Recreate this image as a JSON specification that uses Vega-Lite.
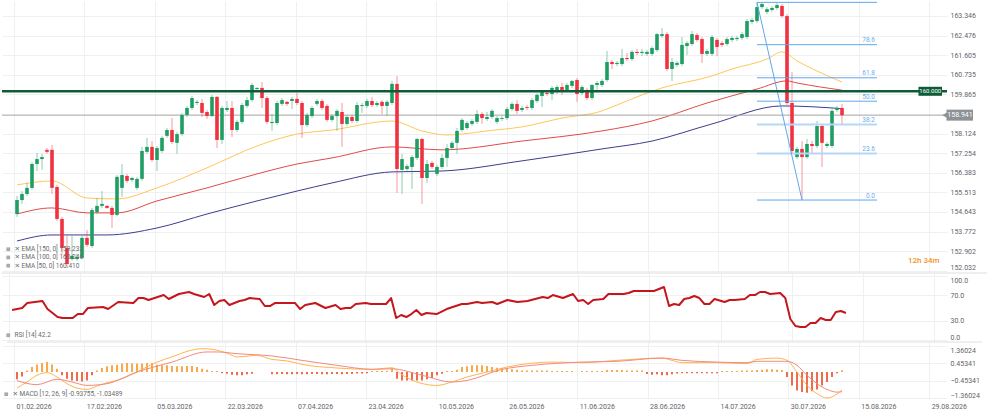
{
  "$schema": "https://vega.github.io/schema/vega-lite/v6.json",
  "padding": 0,
  "autosize": {"type": "pad"},
  "background": "white",
  "spacing": 0,
  "bounds": "flush",
  "datasets": {
    "candles": [
      {"i":1,"o":154.55,"h":155.35,"l":154.42,"c":155.17},
      {"i":2,"o":155.17,"h":155.57,"l":155.00,"c":155.44},
      {"i":3,"o":155.44,"h":155.93,"l":155.35,"c":155.71},
      {"i":4,"o":155.71,"h":156.86,"l":155.62,"c":156.77},
      {"i":5,"o":156.77,"h":157.26,"l":156.46,"c":156.99},
      {"i":6,"o":156.99,"h":157.22,"l":156.51,"c":157.08},
      {"i":7,"o":157.40,"h":157.48,"l":157.22,"c":157.31},
      {"i":8,"o":157.40,"h":157.62,"l":155.44,"c":155.71},
      {"i":9,"o":155.75,"h":155.84,"l":154.24,"c":154.33},
      {"i":10,"o":154.33,"h":154.42,"l":152.78,"c":153.04},
      {"i":11,"o":153.04,"h":153.58,"l":152.16,"c":152.33},
      {"i":12,"o":152.55,"h":153.58,"l":152.47,"c":152.69},
      {"i":13,"o":152.55,"h":152.78,"l":152.47,"c":152.64},
      {"i":14,"o":152.60,"h":153.58,"l":152.55,"c":153.49},
      {"i":15,"o":153.49,"h":153.84,"l":153.09,"c":153.18},
      {"i":16,"o":153.13,"h":154.82,"l":153.04,"c":154.73},
      {"i":17,"o":154.64,"h":155.26,"l":154.55,"c":154.91},
      {"i":18,"o":154.91,"h":155.57,"l":154.82,"c":155.00},
      {"i":19,"o":154.91,"h":154.95,"l":154.78,"c":154.82},
      {"i":20,"o":154.82,"h":154.91,"l":153.93,"c":154.51},
      {"i":21,"o":154.51,"h":156.28,"l":154.46,"c":156.20},
      {"i":22,"o":155.71,"h":156.77,"l":155.31,"c":156.28},
      {"i":23,"o":156.24,"h":156.33,"l":155.93,"c":156.02},
      {"i":24,"o":156.06,"h":156.20,"l":155.97,"c":156.15},
      {"i":25,"o":155.71,"h":156.20,"l":155.62,"c":156.11},
      {"i":26,"o":156.11,"h":157.53,"l":156.02,"c":157.35},
      {"i":27,"o":157.31,"h":157.93,"l":157.22,"c":157.53},
      {"i":28,"o":157.53,"h":157.79,"l":156.86,"c":156.95},
      {"i":29,"o":156.95,"h":157.57,"l":156.46,"c":157.48},
      {"i":30,"o":157.35,"h":158.02,"l":157.26,"c":157.93},
      {"i":31,"o":158.02,"h":158.37,"l":157.93,"c":158.28},
      {"i":32,"o":158.28,"h":158.81,"l":157.66,"c":157.75},
      {"i":33,"o":157.71,"h":158.19,"l":157.22,"c":158.10},
      {"i":34,"o":158.10,"h":159.04,"l":158.02,"c":158.95},
      {"i":35,"o":158.95,"h":159.35,"l":158.86,"c":159.26},
      {"i":36,"o":159.26,"h":159.79,"l":159.17,"c":159.70},
      {"i":37,"o":159.48,"h":159.61,"l":159.39,"c":159.53},
      {"i":38,"o":159.48,"h":159.66,"l":158.86,"c":159.04},
      {"i":39,"o":159.08,"h":159.17,"l":158.77,"c":158.90},
      {"i":40,"o":158.90,"h":159.84,"l":158.86,"c":159.75},
      {"i":41,"o":159.75,"h":159.79,"l":157.48,"c":157.84},
      {"i":42,"o":157.84,"h":159.35,"l":157.66,"c":159.26},
      {"i":43,"o":159.17,"h":159.57,"l":159.08,"c":159.26},
      {"i":44,"o":159.26,"h":159.57,"l":157.97,"c":158.28},
      {"i":45,"o":158.28,"h":158.73,"l":158.19,"c":158.64},
      {"i":46,"o":158.64,"h":159.48,"l":158.55,"c":159.39},
      {"i":47,"o":159.35,"h":159.75,"l":159.26,"c":159.61},
      {"i":48,"o":159.61,"h":160.37,"l":159.53,"c":160.28},
      {"i":49,"o":160.10,"h":160.19,"l":160.01,"c":160.15},
      {"i":50,"o":160.15,"h":160.41,"l":159.26,"c":159.70},
      {"i":51,"o":159.70,"h":159.79,"l":158.55,"c":158.64},
      {"i":52,"o":158.59,"h":158.99,"l":158.24,"c":158.64},
      {"i":53,"o":158.59,"h":159.57,"l":158.50,"c":159.48},
      {"i":54,"o":159.44,"h":159.70,"l":159.35,"c":159.61},
      {"i":55,"o":159.53,"h":159.57,"l":159.35,"c":159.44},
      {"i":56,"o":159.57,"h":159.75,"l":159.21,"c":159.66},
      {"i":57,"o":159.66,"h":159.92,"l":159.39,"c":159.48},
      {"i":58,"o":159.48,"h":159.57,"l":157.93,"c":158.50},
      {"i":59,"o":158.50,"h":159.04,"l":158.42,"c":158.95},
      {"i":60,"o":158.90,"h":159.35,"l":158.81,"c":159.26},
      {"i":61,"o":159.44,"h":159.66,"l":159.35,"c":159.57},
      {"i":62,"o":159.57,"h":159.66,"l":159.17,"c":159.26},
      {"i":63,"o":159.35,"h":159.44,"l":158.64,"c":158.73},
      {"i":64,"o":158.73,"h":158.99,"l":158.64,"c":158.90},
      {"i":65,"o":158.90,"h":159.21,"l":158.24,"c":159.13},
      {"i":66,"o":159.08,"h":159.48,"l":157.53,"c":158.55},
      {"i":67,"o":158.55,"h":158.95,"l":158.46,"c":158.86},
      {"i":68,"o":158.86,"h":158.95,"l":158.59,"c":158.68},
      {"i":69,"o":158.68,"h":159.53,"l":158.59,"c":159.39},
      {"i":70,"o":159.35,"h":159.48,"l":159.04,"c":159.39},
      {"i":71,"o":159.35,"h":159.66,"l":159.26,"c":159.57},
      {"i":72,"o":159.57,"h":159.75,"l":159.30,"c":159.39},
      {"i":73,"o":159.39,"h":159.57,"l":159.30,"c":159.48},
      {"i":74,"o":159.53,"h":159.61,"l":158.99,"c":159.35},
      {"i":75,"o":159.35,"h":159.61,"l":158.90,"c":159.53},
      {"i":76,"o":159.48,"h":160.46,"l":159.39,"c":160.33},
      {"i":77,"o":160.33,"h":160.68,"l":155.49,"c":156.55},
      {"i":78,"o":156.51,"h":157.22,"l":155.44,"c":156.99},
      {"i":79,"o":156.55,"h":156.77,"l":156.46,"c":156.68},
      {"i":80,"o":156.64,"h":157.17,"l":155.66,"c":157.08},
      {"i":81,"o":157.04,"h":157.93,"l":156.95,"c":157.88},
      {"i":82,"o":157.88,"h":157.93,"l":155.00,"c":156.15},
      {"i":83,"o":156.15,"h":156.95,"l":155.93,"c":156.77},
      {"i":84,"o":156.82,"h":156.91,"l":156.55,"c":156.64},
      {"i":85,"o":156.33,"h":156.73,"l":156.24,"c":156.64},
      {"i":86,"o":156.64,"h":157.22,"l":156.55,"c":157.04},
      {"i":87,"o":157.04,"h":157.66,"l":156.64,"c":157.48},
      {"i":88,"o":157.48,"h":157.79,"l":157.40,"c":157.71},
      {"i":89,"o":157.71,"h":158.37,"l":157.22,"c":158.24},
      {"i":90,"o":158.28,"h":158.81,"l":158.19,"c":158.73},
      {"i":91,"o":158.37,"h":158.68,"l":158.28,"c":158.59},
      {"i":92,"o":158.55,"h":158.77,"l":158.46,"c":158.68},
      {"i":93,"o":158.64,"h":159.17,"l":158.55,"c":158.99},
      {"i":94,"o":158.99,"h":159.08,"l":158.55,"c":158.81},
      {"i":95,"o":158.77,"h":159.08,"l":158.68,"c":158.86},
      {"i":96,"o":158.86,"h":159.21,"l":158.77,"c":159.13},
      {"i":97,"o":158.64,"h":158.90,"l":158.55,"c":158.81},
      {"i":98,"o":158.77,"h":158.90,"l":158.68,"c":158.81},
      {"i":99,"o":158.81,"h":159.30,"l":158.73,"c":159.21},
      {"i":100,"o":159.21,"h":159.53,"l":159.13,"c":159.44},
      {"i":101,"o":159.44,"h":159.61,"l":158.99,"c":159.13},
      {"i":102,"o":159.17,"h":159.35,"l":159.08,"c":159.26},
      {"i":103,"o":159.30,"h":159.39,"l":159.17,"c":159.26},
      {"i":104,"o":159.26,"h":159.70,"l":159.17,"c":159.61},
      {"i":105,"o":159.57,"h":159.92,"l":159.48,"c":159.84},
      {"i":106,"o":159.79,"h":160.06,"l":159.30,"c":159.97},
      {"i":107,"o":159.92,"h":160.01,"l":159.79,"c":159.88},
      {"i":108,"o":159.88,"h":160.24,"l":159.61,"c":160.15},
      {"i":109,"o":159.97,"h":160.28,"l":159.88,"c":160.19},
      {"i":110,"o":160.19,"h":160.37,"l":159.84,"c":160.06},
      {"i":111,"o":160.06,"h":160.37,"l":159.97,"c":160.28},
      {"i":112,"o":160.24,"h":160.50,"l":160.15,"c":160.46},
      {"i":113,"o":160.50,"h":160.59,"l":159.53,"c":159.88},
      {"i":114,"o":159.92,"h":160.28,"l":159.84,"c":160.19},
      {"i":115,"o":160.06,"h":160.15,"l":159.61,"c":159.70},
      {"i":116,"o":159.70,"h":160.33,"l":159.61,"c":160.28},
      {"i":117,"o":160.28,"h":160.46,"l":160.06,"c":160.37},
      {"i":118,"o":160.28,"h":160.55,"l":160.19,"c":160.46},
      {"i":119,"o":160.50,"h":161.79,"l":160.41,"c":161.30},
      {"i":120,"o":161.30,"h":161.39,"l":160.99,"c":161.21},
      {"i":121,"o":161.21,"h":161.35,"l":161.12,"c":161.26},
      {"i":122,"o":161.21,"h":161.88,"l":161.12,"c":161.48},
      {"i":123,"o":161.48,"h":161.70,"l":161.35,"c":161.43},
      {"i":124,"o":161.43,"h":161.83,"l":161.35,"c":161.75},
      {"i":125,"o":161.75,"h":161.88,"l":161.61,"c":161.70},
      {"i":126,"o":161.70,"h":161.88,"l":161.57,"c":161.75},
      {"i":127,"o":161.66,"h":161.83,"l":161.57,"c":161.75},
      {"i":128,"o":161.66,"h":162.01,"l":161.57,"c":161.92},
      {"i":129,"o":161.83,"h":162.59,"l":161.75,"c":162.54},
      {"i":130,"o":162.46,"h":162.81,"l":162.37,"c":162.54},
      {"i":131,"o":162.54,"h":162.63,"l":160.90,"c":160.99},
      {"i":132,"o":160.99,"h":161.48,"l":160.46,"c":161.30},
      {"i":133,"o":161.17,"h":161.35,"l":161.08,"c":161.26},
      {"i":134,"o":161.21,"h":162.41,"l":161.12,"c":162.06},
      {"i":135,"o":162.01,"h":162.23,"l":161.61,"c":162.14},
      {"i":136,"o":162.10,"h":162.68,"l":162.01,"c":162.54},
      {"i":137,"o":162.50,"h":162.59,"l":162.19,"c":162.28},
      {"i":138,"o":162.32,"h":162.41,"l":161.26,"c":161.66},
      {"i":139,"o":161.66,"h":161.88,"l":161.57,"c":161.79},
      {"i":140,"o":161.66,"h":162.50,"l":161.57,"c":162.41},
      {"i":141,"o":162.28,"h":162.37,"l":161.57,"c":161.97},
      {"i":142,"o":162.14,"h":162.23,"l":161.97,"c":162.06},
      {"i":143,"o":162.10,"h":162.41,"l":162.01,"c":162.32},
      {"i":144,"o":162.28,"h":162.46,"l":162.19,"c":162.37},
      {"i":145,"o":162.32,"h":162.46,"l":162.23,"c":162.37},
      {"i":146,"o":162.37,"h":162.63,"l":162.28,"c":162.54},
      {"i":147,"o":162.41,"h":163.21,"l":162.32,"c":163.12},
      {"i":148,"o":163.08,"h":163.26,"l":162.99,"c":163.17},
      {"i":149,"o":163.12,"h":163.95,"l":163.03,"c":163.74},
      {"i":150,"o":163.74,"h":163.92,"l":163.65,"c":163.88},
      {"i":151,"o":163.52,"h":163.74,"l":163.43,"c":163.65},
      {"i":152,"o":163.61,"h":163.79,"l":163.52,"c":163.70},
      {"i":153,"o":163.70,"h":163.92,"l":163.61,"c":163.83},
      {"i":154,"o":163.79,"h":163.88,"l":163.26,"c":163.34},
      {"i":155,"o":163.34,"h":163.43,"l":159.39,"c":159.48},
      {"i":156,"o":159.48,"h":160.86,"l":157.26,"c":157.35},
      {"i":157,"o":157.08,"h":157.53,"l":156.99,"c":157.44},
      {"i":158,"o":157.44,"h":157.79,"l":155.17,"c":157.08},
      {"i":159,"o":157.08,"h":157.88,"l":156.99,"c":157.66},
      {"i":160,"o":157.66,"h":157.79,"l":157.26,"c":157.57},
      {"i":161,"o":157.57,"h":158.68,"l":157.48,"c":158.46},
      {"i":162,"o":158.46,"h":158.55,"l":156.64,"c":157.71},
      {"i":163,"o":157.57,"h":157.75,"l":157.48,"c":157.66},
      {"i":164,"o":157.57,"h":159.21,"l":157.48,"c":159.13},
      {"i":165,"o":159.17,"h":159.35,"l":159.08,"c":159.26},
      {"i":166,"o":159.26,"h":159.44,"l":158.55,"c":158.94}
    ],
    "ema": [
      {"s":"50","i":1,"v":155.84},{"s":"50","i":8,"v":156.02},{"s":"50","i":15,"v":155.26},{"s":"50","i":21,"v":155.22},
      {"s":"50","i":29,"v":155.71},{"s":"50","i":39,"v":156.60},{"s":"50","i":49,"v":157.57},{"s":"50","i":57,"v":158.10},
      {"s":"50","i":64,"v":158.28},{"s":"50","i":76,"v":158.68},{"s":"50","i":82,"v":158.24},{"s":"50","i":87,"v":158.06},
      {"s":"50","i":90,"v":158.10},{"s":"50","i":95,"v":158.24},{"s":"50","i":102,"v":158.42},{"s":"50","i":110,"v":158.81},
      {"s":"50","i":118,"v":159.13},{"s":"50","i":120,"v":159.30},{"s":"50","i":126,"v":159.84},{"s":"50","i":130,"v":160.15},
      {"s":"50","i":140,"v":160.68},{"s":"50","i":144,"v":160.99},{"s":"50","i":151,"v":161.43},{"s":"50","i":154,"v":161.75},
      {"s":"50","i":157,"v":161.35},{"s":"50","i":161,"v":160.90},{"s":"50","i":166,"v":160.41},
      {"s":"100","i":1,"v":154.55},{"s":"100","i":8,"v":154.82},{"s":"100","i":15,"v":154.60},{"s":"100","i":21,"v":154.60},
      {"s":"100","i":29,"v":155.13},{"s":"100","i":39,"v":155.71},{"s":"100","i":49,"v":156.33},{"s":"100","i":57,"v":156.77},
      {"s":"100","i":64,"v":157.04},{"s":"100","i":76,"v":157.53},{"s":"100","i":86,"v":157.40},{"s":"100","i":102,"v":157.79},
      {"s":"100","i":118,"v":158.24},{"s":"100","i":128,"v":158.68},{"s":"100","i":139,"v":159.48},{"s":"100","i":149,"v":160.10},
      {"s":"100","i":155,"v":160.46},{"s":"100","i":157,"v":160.37},{"s":"100","i":166,"v":160.05},
      {"s":"150","i":1,"v":153.35},{"s":"150","i":8,"v":153.62},{"s":"150","i":19,"v":153.62},{"s":"150","i":29,"v":153.93},
      {"s":"150","i":39,"v":154.55},{"s":"150","i":49,"v":155.13},{"s":"150","i":57,"v":155.57},{"s":"150","i":64,"v":155.93},
      {"s":"150","i":76,"v":156.42},{"s":"150","i":86,"v":156.46},{"s":"150","i":102,"v":156.91},{"s":"150","i":118,"v":157.44},
      {"s":"150","i":128,"v":157.79},{"s":"150","i":140,"v":158.55},{"s":"150","i":154,"v":159.35},{"s":"150","i":166,"v":159.23}
    ],
    "lvl": [
      {"k":"level","p":160,"t":"160.000"},
      {"k":"last","p":158.941,"t":"158.941"}
    ],
    "fib": [
      {"level":"100","p":163.95},{"level":"78.6","p":162.07},{"level":"61.8","p":160.60},{"level":"50.0","p":159.56},
      {"level":"38.2","p":158.52},{"level":"23.6","p":157.24},{"level":"0.0","p":155.17}
    ],
    "swing": [{"i":149,"p":163.95},{"i":158,"p":155.17}],
    "rsi": [
      {"i":1,"r":46.9},{"i":3,"r":50.0},{"i":4,"r":57.8},{"i":7,"r":60.9},{"i":8,"r":48.4},{"i":10,"r":35.9},{"i":11,"r":34.4},
      {"i":13,"r":34.4},{"i":14,"r":40.6},{"i":15,"r":40.6},{"i":16,"r":50.0},{"i":19,"r":51.6},{"i":20,"r":48.4},{"i":22,"r":59.4},
      {"i":25,"r":57.8},{"i":26,"r":65.6},{"i":27,"r":65.6},{"i":28,"r":62.5},{"i":31,"r":70.3},{"i":32,"r":64.1},{"i":34,"r":71.9},
      {"i":36,"r":75.0},{"i":37,"r":71.9},{"i":39,"r":67.2},{"i":40,"r":71.9},{"i":41,"r":54.7},{"i":42,"r":60.9},{"i":43,"r":62.5},
      {"i":44,"r":54.7},{"i":46,"r":60.9},{"i":47,"r":62.5},{"i":48,"r":65.6},{"i":50,"r":64.1},{"i":51,"r":53.1},{"i":52,"r":53.1},
      {"i":53,"r":57.8},{"i":55,"r":57.8},{"i":57,"r":57.8},{"i":58,"r":48.4},{"i":59,"r":54.7},{"i":61,"r":57.8},{"i":63,"r":50.0},
      {"i":65,"r":54.7},{"i":66,"r":48.4},{"i":67,"r":50.0},{"i":68,"r":50.0},{"i":69,"r":56.3},{"i":71,"r":57.8},{"i":72,"r":56.3},
      {"i":74,"r":56.3},{"i":75,"r":56.3},{"i":76,"r":65.6},{"i":77,"r":34.4},{"i":78,"r":39.1},{"i":79,"r":35.9},{"i":80,"r":40.6},
      {"i":81,"r":46.9},{"i":82,"r":39.1},{"i":83,"r":42.2},{"i":85,"r":40.6},{"i":87,"r":48.4},{"i":90,"r":56.3},{"i":91,"r":56.3},
      {"i":93,"r":59.4},{"i":94,"r":57.8},{"i":96,"r":59.4},{"i":97,"r":56.3},{"i":99,"r":62.5},{"i":101,"r":59.4},{"i":103,"r":60.9},
      {"i":106,"r":67.2},{"i":107,"r":65.6},{"i":108,"r":70.3},{"i":110,"r":65.6},{"i":112,"r":71.9},{"i":113,"r":60.9},{"i":114,"r":62.5},
      {"i":115,"r":56.3},{"i":116,"r":62.5},{"i":118,"r":64.1},{"i":119,"r":71.9},{"i":122,"r":71.9},{"i":123,"r":73.4},{"i":124,"r":76.6},
      {"i":128,"r":76.6},{"i":129,"r":79.7},{"i":130,"r":82.8},{"i":131,"r":53.1},{"i":132,"r":56.3},{"i":133,"r":54.7},{"i":134,"r":64.1},
      {"i":135,"r":65.6},{"i":136,"r":68.8},{"i":137,"r":65.6},{"i":138,"r":56.3},{"i":139,"r":56.3},{"i":140,"r":64.1},{"i":142,"r":59.4},
      {"i":143,"r":62.5},{"i":144,"r":62.5},{"i":146,"r":64.1},{"i":147,"r":70.3},{"i":148,"r":70.3},{"i":149,"r":75.0},{"i":150,"r":75.0},
      {"i":151,"r":71.9},{"i":153,"r":73.4},{"i":154,"r":65.6},{"i":155,"r":32.8},{"i":156,"r":21.9},{"i":157,"r":20.3},{"i":158,"r":20.3},
      {"i":159,"r":26.6},{"i":160,"r":26.6},{"i":161,"r":34.4},{"i":162,"r":31.3},{"i":163,"r":31.3},{"i":164,"r":43.8},{"i":165,"r":45.3},
      {"i":166,"r":42.2}
    ],
    "hist": [
      {"i":1,"h":-0.38},{"i":2,"h":-0.23},{"i":3,"h":0.08},{"i":4,"h":0.26},{"i":5,"h":0.40},{"i":6,"h":0.47},{"i":7,"h":0.52},
      {"i":8,"h":0.40},{"i":9,"h":0.17},{"i":10,"h":-0.17},{"i":11,"h":-0.35},{"i":12,"h":-0.44},{"i":13,"h":-0.47},{"i":14,"h":-0.49},
      {"i":15,"h":-0.44},{"i":16,"h":-0.17},{"i":17,"h":0.08},{"i":18,"h":0.21},{"i":19,"h":0.30},{"i":20,"h":0.35},{"i":21,"h":0.38},
      {"i":22,"h":0.44},{"i":23,"h":0.47},{"i":24,"h":0.44},{"i":25,"h":0.44},{"i":26,"h":0.44},{"i":27,"h":0.47},{"i":28,"h":0.47},
      {"i":29,"h":0.38},{"i":30,"h":0.35},{"i":31,"h":0.35},{"i":32,"h":0.31},{"i":33,"h":0.30},{"i":34,"h":0.30},{"i":35,"h":0.31},
      {"i":36,"h":0.31},{"i":37,"h":0.26},{"i":38,"h":0.17},{"i":39,"h":0.12},{"i":40,"h":0.06},{"i":41,"h":0.06},{"i":42,"h":-0.06},
      {"i":43,"h":-0.09},{"i":44,"h":-0.14},{"i":45,"h":-0.17},{"i":46,"h":-0.17},{"i":47,"h":-0.12},{"i":48,"h":-0.09},
      {"i":52,"h":-0.12},{"i":53,"h":-0.12},{"i":54,"h":-0.10},{"i":55,"h":-0.12},{"i":56,"h":-0.12},{"i":57,"h":-0.10},{"i":58,"h":-0.12},
      {"i":59,"h":-0.12},{"i":60,"h":-0.10},{"i":61,"h":-0.10},{"i":62,"h":-0.12},{"i":63,"h":-0.12},{"i":64,"h":-0.10},{"i":65,"h":-0.10},
      {"i":66,"h":-0.12},{"i":67,"h":-0.10},{"i":68,"h":-0.10},{"i":69,"h":-0.08},{"i":70,"h":-0.08},{"i":71,"h":-0.06},{"i":72,"h":0.06},
      {"i":73,"h":0.06},{"i":74,"h":0.06},{"i":75,"h":0.06},{"i":76,"h":0.17},{"i":77,"h":-0.35},{"i":78,"h":-0.44},{"i":79,"h":-0.44},
      {"i":80,"h":-0.44},{"i":81,"h":-0.44},{"i":82,"h":-0.44},{"i":83,"h":-0.38},{"i":84,"h":-0.31},{"i":85,"h":-0.17},{"i":86,"h":-0.09},
      {"i":87,"h":0.06},{"i":88,"h":0.06},{"i":89,"h":0.12},{"i":90,"h":0.26},{"i":91,"h":0.30},{"i":92,"h":0.35},{"i":93,"h":0.35},
      {"i":94,"h":0.35},{"i":95,"h":0.31},{"i":96,"h":0.26},{"i":97,"h":0.23},{"i":98,"h":0.21},{"i":99,"h":0.17},{"i":100,"h":0.14},
      {"i":101,"h":0.12},{"i":102,"h":0.08},{"i":103,"h":0.08},{"i":104,"h":0.08},{"i":105,"h":0.08},{"i":106,"h":0.08},{"i":107,"h":0.08},
      {"i":108,"h":0.06},{"i":109,"h":0.06},{"i":110,"h":0.06},{"i":111,"h":0.06},{"i":112,"h":0.06},{"i":114,"h":0.06},{"i":115,"h":0.06},
      {"i":116,"h":0.06},{"i":117,"h":0.06},{"i":118,"h":0.06},{"i":119,"h":0.10},{"i":120,"h":0.10},{"i":121,"h":0.10},{"i":122,"h":0.10},
      {"i":123,"h":0.08},{"i":124,"h":0.08},{"i":125,"h":0.08},{"i":126,"h":0.08},{"i":127,"h":-0.10},{"i":128,"h":-0.14},{"i":129,"h":-0.12},
      {"i":130,"h":-0.17},{"i":131,"h":-0.17},{"i":132,"h":-0.12},{"i":133,"h":-0.08},{"i":134,"h":-0.06},{"i":135,"h":-0.06},{"i":136,"h":-0.06},
      {"i":137,"h":-0.06},{"i":138,"h":-0.06},{"i":139,"h":-0.06},{"i":140,"h":-0.06},{"i":141,"h":-0.06},{"i":142,"h":0.06},{"i":143,"h":0.06},
      {"i":144,"h":0.06},{"i":145,"h":0.06},{"i":146,"h":0.08},{"i":147,"h":0.08},{"i":148,"h":0.08},{"i":149,"h":0.10},{"i":150,"h":0.12},
      {"i":151,"h":0.14},{"i":152,"h":0.14},{"i":153,"h":0.12},{"i":154,"h":0.10},{"i":155,"h":-0.26},{"i":156,"h":-0.70},{"i":157,"h":-0.96},
      {"i":158,"h":-1.05},{"i":159,"h":-1.08},{"i":160,"h":-1.01},{"i":161,"h":-0.91},{"i":162,"h":-0.70},{"i":163,"h":-0.52},{"i":164,"h":-0.26},
      {"i":165,"h":-0.06},{"i":166,"h":0.09}
    ],
    "macdl": [
      {"s":"m","i":1,"v":-0.84},{"s":"m","i":3,"v":-0.52},{"s":"m","i":5,"v":-0.17},{"s":"m","i":7,"v":-0.03},{"s":"m","i":9,"v":-0.26},
      {"s":"m","i":11,"v":-0.61},{"s":"m","i":13,"v":-0.84},{"s":"m","i":15,"v":-0.91},{"s":"m","i":17,"v":-0.73},{"s":"m","i":19,"v":-0.56},
      {"s":"m","i":22,"v":-0.35},{"s":"m","i":25,"v":0.0},{"s":"m","i":29,"v":0.52},{"s":"m","i":32,"v":0.79},{"s":"m","i":35,"v":1.08},
      {"s":"m","i":38,"v":1.22},{"s":"m","i":40,"v":1.19},{"s":"m","i":43,"v":0.99},{"s":"m","i":45,"v":0.79},{"s":"m","i":49,"v":0.87},
      {"s":"m","i":52,"v":0.66},{"s":"m","i":55,"v":0.58},{"s":"m","i":58,"v":0.40},{"s":"m","i":65,"v":0.21},{"s":"m","i":72,"v":0.14},
      {"s":"m","i":76,"v":0.22},{"s":"m","i":78,"v":-0.15},{"s":"m","i":82,"v":-0.60},{"s":"m","i":85,"v":-0.70},{"s":"m","i":88,"v":-0.52},
      {"s":"m","i":91,"v":-0.26},{"s":"m","i":95,"v":0.0},{"s":"m","i":99,"v":0.26},{"s":"m","i":108,"v":0.52},{"s":"m","i":114,"v":0.49},
      {"s":"m","i":121,"v":0.61},{"s":"m","i":130,"v":0.73},{"s":"m","i":132,"v":0.61},{"s":"m","i":134,"v":0.49},{"s":"m","i":141,"v":0.49},
      {"s":"m","i":147,"v":0.44},{"s":"m","i":149,"v":0.66},{"s":"m","i":153,"v":0.73},{"s":"m","i":155,"v":0.61},{"s":"m","i":157,"v":0.0},
      {"s":"m","i":159,"v":-0.70},{"s":"m","i":161,"v":-1.13},{"s":"m","i":163,"v":-1.36},{"s":"m","i":165,"v":-1.15},{"s":"m","i":166,"v":-0.94},
      {"s":"s","i":1,"v":-0.45},{"s":"s","i":5,"v":-0.66},{"s":"s","i":9,"v":-0.38},{"s":"s","i":12,"v":-0.52},{"s":"s","i":15,"v":-0.70},
      {"s":"s","i":19,"v":-0.61},{"s":"s","i":25,"v":0.0},{"s":"s","i":32,"v":0.52},{"s":"s","i":39,"v":1.05},{"s":"s","i":41,"v":1.05},
      {"s":"s","i":45,"v":0.96},{"s":"s","i":52,"v":0.84},{"s":"s","i":58,"v":0.61},{"s":"s","i":65,"v":0.35},{"s":"s","i":72,"v":0.14},
      {"s":"s","i":76,"v":0.17},{"s":"s","i":82,"v":-0.17},{"s":"s","i":88,"v":-0.52},{"s":"s","i":91,"v":-0.44},{"s":"s","i":98,"v":0.14},
      {"s":"s","i":104,"v":0.35},{"s":"s","i":114,"v":0.52},{"s":"s","i":121,"v":0.56},{"s":"s","i":130,"v":0.73},{"s":"s","i":134,"v":0.61},
      {"s":"s","i":141,"v":0.52},{"s":"s","i":147,"v":0.49},{"s":"s","i":149,"v":0.56},{"s":"s","i":155,"v":0.56},{"s":"s","i":157,"v":0.35},
      {"s":"s","i":159,"v":-0.17},{"s":"s","i":161,"v":-0.61},{"s":"s","i":163,"v":-0.91},{"s":"s","i":165,"v":-1.05},{"s":"s","i":166,"v":-1.03}
    ]
  },
  "vconcat": [
    {
      "width": 945,
      "height": 272,
      "layer": [
        {
          "data": {"name": "ema"},
          "mark": {"type": "line", "strokeWidth": 1, "interpolate": "monotone"},
          "encoding": {
            "x": {"field": "i", "type": "quantitative", "scale": {"domain": [-1, 186], "nice": false, "zero": false},
              "axis": {"values": [0.39,14.47,28.55,42.63,56.71,70.79,84.87,98.95,113.03,127.11,141.19,155.27,169.35,183.43], "tickCount": 50, "labels": false, "grid": true, "title": null}},
            "y": {"field": "v", "type": "quantitative", "scale": {"domain": [151.93, 164.01], "nice": false, "zero": false},
              "axis": {"orient": "right", "values": [152.032,152.902,153.772,154.643,155.513,156.383,157.254,158.124,159.865,160.735,161.605,162.476,163.346], "tickCount": 50, "format": ".3f", "grid": true, "title": null, "labelPadding": 3, "labelOverlap": false, "labelFlush": 8}},
            "color": {"field": "s", "type": "nominal",
              "scale": {"domain": ["150", "100", "50"], "range": ["#3d3d8f", "#df4b4b", "#ffc65a"]},
              "legend": {"title": null, "orient": "bottom-left", "offset": 3, "padding": 0, "direction": "vertical",
                "symbolType": "square", "symbolSize": 14, "labelFontSize": 6.5, "labelColor": "#6b6b6b", "labelFont": "Roboto, DejaVu Sans",
                "rowPadding": 1.2, "labelOffset": 3, "labelLimit": 300,
                "labelExpr": "datum.label == '150' ? '✕ EMA [150, 0] 159.232' : datum.label == '100' ? '✕ EMA [100, 0] 160.046' : '✕ EMA [50, 0] 160.410'",
                "encode": {"symbols": {"update": {"fill": {"value": "#a9a9a9"}, "stroke": {"value": "#a9a9a9"}, "strokeWidth": {"value": 0}, "opacity": {"value": 1}}}}}}
          }
        },
        {
          "data": {"name": "lvl"},
          "transform": [{"filter": "datum.k == 'last'"}],
          "mark": {"type": "rule", "color": "#a3a3a3", "strokeWidth": 1},
          "encoding": {"y": {"field": "p", "type": "quantitative"}}
        },
        {
          "data": {"name": "candles"},
          "mark": {"type": "rule", "strokeWidth": 1, "opacity": 0.5},
          "encoding": {
            "x": {"field": "i", "type": "quantitative"},
            "y": {"field": "l", "type": "quantitative"},
            "y2": {"field": "h"},
            "color": {"condition": {"test": "datum.c >= datum.o", "value": "#1f9e63"}, "value": "#f0313f"}
          }
        },
        {
          "data": {"name": "candles"},
          "mark": {"type": "bar", "size": 3.6},
          "encoding": {
            "x": {"field": "i", "type": "quantitative"},
            "y": {"field": "o", "type": "quantitative"},
            "y2": {"field": "c"},
            "color": {"condition": {"test": "datum.c >= datum.o", "value": "#1f9e63"}, "value": "#f0313f"}
          }
        },
        {
          "data": {"name": "fib"},
          "mark": {"type": "rule"},
          "encoding": {
            "x": {"datum": 149, "type": "quantitative"},
            "x2": {"datum": 173},
            "y": {"field": "p", "type": "quantitative"},
            "color": {"condition": {"test": "datum.level == '38.2' || datum.level == '23.6'", "value": "#b5d8f7"}, "value": "#5ea8ec"},
            "strokeWidth": {"condition": {"test": "datum.level == '38.2' || datum.level == '23.6'", "value": 2}, "value": 1}
          }
        },
        {
          "data": {"name": "swing"},
          "mark": {"type": "line", "color": "#5ea8ec", "strokeWidth": 1},
          "encoding": {
            "x": {"field": "i", "type": "quantitative"},
            "y": {"field": "p", "type": "quantitative"}
          }
        },
        {
          "data": {"name": "fib"},
          "transform": [{"filter": "datum.level != '100'"}],
          "mark": {"type": "text", "align": "right", "baseline": "bottom", "dy": -1.5, "fontSize": 6.5, "color": "#6aaeea", "font": "Roboto"},
          "encoding": {
            "x": {"datum": 172.6, "type": "quantitative"},
            "y": {"field": "p", "type": "quantitative"},
            "text": {"field": "level"}
          }
        },
        {
          "data": {"name": "lvl"},
          "transform": [{"filter": "datum.k == 'level'"}],
          "mark": {"type": "rule", "color": "#0e5b38", "strokeWidth": 2.5},
          "encoding": {"y": {"field": "p", "type": "quantitative"}}
        },
        {
          "data": {"name": "lvl"},
          "transform": [{"filter": "datum.k == 'level'"}],
          "mark": {"type": "rule", "color": "#0e5b38", "strokeWidth": 9, "strokeCap": "butt"},
          "encoding": {
            "x": {"datum": 181.3, "type": "quantitative"},
            "x2": {"datum": 186},
            "y": {"field": "p", "type": "quantitative"}
          }
        },
        {
          "data": {"name": "lvl"},
          "transform": [{"filter": "datum.k == 'level'"}],
          "mark": {"type": "text", "color": "white", "fontSize": 6, "align": "center", "baseline": "middle", "font": "Roboto"},
          "encoding": {
            "x": {"datum": 183.65, "type": "quantitative"},
            "y": {"field": "p", "type": "quantitative"},
            "text": {"field": "t"}
          }
        },
        {
          "data": {"name": "lvl"},
          "transform": [{"filter": "datum.k == 'last'"}],
          "mark": {"type": "rule", "color": "#8d9296", "strokeWidth": 11, "strokeCap": "butt"},
          "encoding": {
            "x": {"datum": 186.9, "type": "quantitative"},
            "x2": {"datum": 192.2},
            "y": {"field": "p", "type": "quantitative"}
          }
        },
        {
          "data": {"name": "lvl"},
          "transform": [{"filter": "datum.k == 'last'"}],
          "mark": {"type": "point", "shape": "triangle-left", "filled": true, "size": 40, "color": "#8d9296", "opacity": 1},
          "encoding": {
            "x": {"datum": 186.6, "type": "quantitative"},
            "y": {"field": "p", "type": "quantitative"}
          }
        },
        {
          "data": {"name": "lvl"},
          "transform": [{"filter": "datum.k == 'last'"}],
          "mark": {"type": "text", "color": "white", "fontSize": 7, "align": "center", "baseline": "middle", "font": "Roboto"},
          "encoding": {
            "x": {"datum": 189.6, "type": "quantitative"},
            "y": {"field": "p", "type": "quantitative"},
            "text": {"field": "t"}
          }
        },
        {
          "data": {"values": [{"t": "12h 34m"}]},
          "mark": {"type": "text", "color": "#f39422", "fontSize": 8, "fontWeight": 500, "align": "right", "baseline": "middle", "font": "Roboto"},
          "encoding": {
            "x": {"datum": 185.5, "type": "quantitative"},
            "y": {"datum": 152.45, "type": "quantitative"},
            "text": {"field": "t"}
          }
        }
      ]
    },
    {
      "width": 945,
      "height": 69,
      "layer": [
        {
          "data": {"name": "rsi"},
          "mark": {"type": "line", "strokeWidth": 2, "strokeJoin": "round"},
          "encoding": {
            "x": {"field": "i", "type": "quantitative", "scale": {"domain": [-1, 186], "nice": false, "zero": false},
              "axis": {"values": [0.39,14.47,28.55,42.63,56.71,70.79,84.87,98.95,113.03,127.11,141.19,155.27,169.35,183.43], "tickCount": 50, "labels": false, "grid": true, "title": null}},
            "y": {"field": "r", "type": "quantitative", "scale": {"domain": [-3.1, 104.7], "nice": false, "zero": false},
              "axis": {"orient": "right", "values": [0, 30, 70, 100], "tickCount": 50, "format": ".1f", "grid": true, "title": null, "labelPadding": 3, "labelOverlap": false, "labelFlush": 8}},
            "color": {"datum": "r", "type": "nominal", "scale": {"domain": ["r"], "range": ["#c4161c"]},
              "legend": {"title": null, "orient": "bottom-left", "offset": 3, "padding": 0, "symbolType": "square", "symbolSize": 14,
                "labelFontSize": 6.5, "labelColor": "#6b6b6b", "labelFont": "Roboto", "labelOffset": 3, "labelLimit": 300,
                "labelExpr": "'RSI [14] 42.2'",
                "encode": {"symbols": {"update": {"fill": {"value": "#a9a9a9"}, "stroke": {"value": "#a9a9a9"}, "strokeWidth": {"value": 0}, "opacity": {"value": 1}}}}}}
          }
        },
        {
          "data": {"values": [{"k": "sep"}]},
          "mark": {"type": "rule", "color": "#dedede", "strokeWidth": 1},
          "encoding": {
            "x": {"datum": -1, "type": "quantitative"},
            "x2": {"datum": 194},
            "y": {"datum": 104.7, "type": "quantitative"}
          }
        }
      ]
    },
    {
      "width": 945,
      "height": 57,
      "layer": [
        {
          "data": {"name": "hist"},
          "mark": {"type": "bar", "size": 2},
          "encoding": {
            "x": {"field": "i", "type": "quantitative", "scale": {"domain": [-1, 186], "nice": false, "zero": false},
              "axis": {"values": [0.39,14.47,28.55,42.63,56.71,70.79,84.87,98.95,113.03,127.11,141.19,155.27,169.35,183.43], "tickCount": 50, "grid": true, "title": null,
                "labelAlign": "left", "labelOffset": 2, "labelPadding": 3, "labelOverlap": false, "labelFlush": false,
                "labelExpr": "['01.02.2026','17.02.2026','05.03.2026','22.03.2026','07.04.2026','23.04.2026','10.05.2026','26.05.2026','11.06.2026','28.06.2026','14.07.2026','30.07.2026','15.08.2026','29.08.2026'][round((datum.value - 0.39) / 14.08)]"}},
            "y": {"field": "h", "type": "quantitative", "scale": {"domain": [-1.41, 1.57], "nice": false, "zero": false},
              "axis": {"orient": "right", "values": [-1.36024, -0.45341, 0.45341, 1.36024], "tickCount": 50, "format": ".5f", "grid": true, "title": null, "labelPadding": 3, "labelOverlap": false, "labelFlush": 8}},
            "y2": {"datum": 0},
            "color": {"condition": {"test": "datum.h >= 0", "value": "#f9a94b"}, "value": "#ee6b4c"}
          }
        },
        {
          "data": {"name": "macdl"},
          "mark": {"type": "line", "strokeWidth": 1, "interpolate": "monotone"},
          "encoding": {
            "x": {"field": "i", "type": "quantitative"},
            "y": {"field": "v", "type": "quantitative"},
            "color": {"field": "s", "type": "nominal", "scale": {"domain": ["m", "s"], "range": ["#ffb44f", "#f28a80"]},
              "legend": {"title": null, "orient": "bottom-left", "offset": 1, "padding": 0, "values": ["m"], "symbolType": "square", "symbolSize": 14,
                "labelFontSize": 6.5, "labelColor": "#6b6b6b", "labelFont": "Roboto, DejaVu Sans", "labelOffset": 3, "labelLimit": 300,
                "labelExpr": "'✕ MACD [12, 26, 9] -0.93755, -1.03489'",
                "encode": {"symbols": {"update": {"fill": {"value": "#a9a9a9"}, "stroke": {"value": "#a9a9a9"}, "strokeWidth": {"value": 0}, "opacity": {"value": 1}}}}}}
          }
        },
        {
          "data": {"values": [{"k": "sep"}]},
          "mark": {"type": "rule", "color": "#dedede", "strokeWidth": 1},
          "encoding": {
            "x": {"datum": -1, "type": "quantitative"},
            "x2": {"datum": 194},
            "y": {"datum": 1.57, "type": "quantitative"}
          }
        }
      ]
    }
  ],
  "resolve": {
    "scale": {"x": "independent", "y": "independent", "color": "independent"},
    "axis": {"x": "independent", "y": "independent"},
    "legend": {"color": "independent"}
  },
  "config": {
    "font": "Roboto",
    "view": {"stroke": null},
    "axis": {"labelFont": "Roboto", "labelFontSize": 7, "labelColor": "#5f6368", "gridColor": "#eef0f2", "gridWidth": 1, "domain": false, "ticks": false}
  }
}
